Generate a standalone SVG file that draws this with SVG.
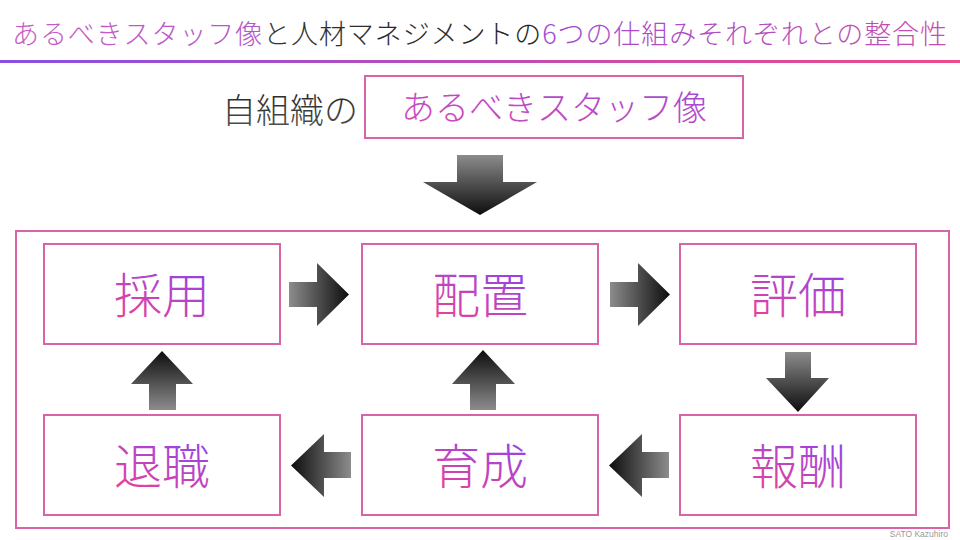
<svg xmlns="http://www.w3.org/2000/svg" width="960" height="540" viewBox="0 0 960 540">
  <defs>
    <linearGradient id="titleLine" x1="0" y1="0" x2="1" y2="0">
      <stop offset="0" stop-color="#8a4fe0"/>
      <stop offset="1" stop-color="#ee4a8c"/>
    </linearGradient>
    <linearGradient id="tA" gradientUnits="userSpaceOnUse" x1="12" y1="0" x2="270" y2="0">
      <stop offset="0" stop-color="#c95bc2"/>
      <stop offset="1" stop-color="#b356c8"/>
    </linearGradient>
    <linearGradient id="tB" gradientUnits="userSpaceOnUse" x1="270" y1="0" x2="540" y2="0">
      <stop offset="0" stop-color="#333"/>
      <stop offset="1" stop-color="#222"/>
    </linearGradient>
    <linearGradient id="tC" gradientUnits="userSpaceOnUse" x1="540" y1="0" x2="947" y2="0">
      <stop offset="0" stop-color="#a04bd2"/>
      <stop offset="1" stop-color="#c64dae"/>
    </linearGradient>
    <linearGradient id="lbl" x1="0.2" y1="1" x2="0.8" y2="0">
      <stop offset="0" stop-color="#ee3f96"/>
      <stop offset="0.55" stop-color="#b545c8"/>
      <stop offset="1" stop-color="#8a3ff0"/>
    </linearGradient>
    <linearGradient id="hdr" x1="0" y1="1" x2="1" y2="0">
      <stop offset="0" stop-color="#d64cb4"/>
      <stop offset="1" stop-color="#a048d6"/>
    </linearGradient>
    <linearGradient id="gray" x1="0" y1="0" x2="0" y2="1">
      <stop offset="0" stop-color="#1e1e1e"/>
      <stop offset="1" stop-color="#555"/>
    </linearGradient>
    <linearGradient id="aR" x1="0" y1="0" x2="1" y2="0">
      <stop offset="0" stop-color="#8c8c8c"/>
      <stop offset="1" stop-color="#0d0d0d"/>
    </linearGradient>
    <linearGradient id="aL" x1="0" y1="0" x2="1" y2="0">
      <stop offset="0" stop-color="#0d0d0d"/>
      <stop offset="1" stop-color="#8c8c8c"/>
    </linearGradient>
    <linearGradient id="aD" x1="0" y1="0" x2="0" y2="1">
      <stop offset="0" stop-color="#8c8c8c"/>
      <stop offset="1" stop-color="#0d0d0d"/>
    </linearGradient>
    <linearGradient id="aU" x1="0" y1="0" x2="0" y2="1">
      <stop offset="0" stop-color="#0d0d0d"/>
      <stop offset="1" stop-color="#8c8c8c"/>
    </linearGradient>
  </defs>
  <style>
    text { font-family: "Noto Sans CJK JP", "Noto Sans", sans-serif; font-weight: 300; }
    .box { fill: #ffffff; stroke: #d864a8; stroke-width: 2; }
    .lbl { font-size: 48px; fill: url(#lbl); text-anchor: middle; }
  </style>
  <rect x="0" y="0" width="960" height="540" fill="#ffffff"/>

  <g id="title">
    <text x="12" y="44" font-size="27" textLength="935" lengthAdjust="spacing"><tspan fill="url(#tA)">あるべきスタッフ像</tspan><tspan fill="url(#tB)">と人材マネジメントの</tspan><tspan fill="url(#tC)">6つの仕組みそれぞれとの整合性</tspan></text>
    <rect x="0" y="60" width="960" height="3" fill="url(#titleLine)"/>
  </g>

  <g id="header">
    <text x="222" y="123" font-size="34" fill="url(#gray)">自組織の</text>
    <rect class="box" x="365" y="76" width="378" height="62"/>
    <text x="554" y="120" font-size="34" fill="url(#hdr)" text-anchor="middle">あるべきスタッフ像</text>
  </g>

  <g id="container">
    <rect class="box" x="16" y="231" width="933" height="297" fill="none"/>
  </g>

  <g id="connectors">
    <polygon points="457,155 503,155 503,182 537,182 480,215 423,182 457,182" fill="url(#aD)"/>
    <polygon points="289,282 317,282 317,263 349,294.5 317,326 317,307 289,307" fill="url(#aR)"/>
    <polygon points="610,282 638,282 638,263 670,294.5 638,326 638,307 610,307" fill="url(#aR)"/>
    <polygon points="785,352 811,352 811,378 829,378 798,412 766,378 785,378" fill="url(#aD)"/>
    <polygon points="669,452 642,452 642,434 609,465.5 642,497 642,478 669,478" fill="url(#aL)"/>
    <polygon points="351,452 324,452 324,434 291,465.5 324,497 324,478 351,478" fill="url(#aL)"/>
    <polygon points="470,410 496,410 496,384 515,384 483,350 452,384 470,384" fill="url(#aU)"/>
    <polygon points="149,410 176,410 176,384 193,384 162,351 131,384 149,384" fill="url(#aU)"/>
  </g>

  <g id="node-saiyo">
    <rect class="box" x="44" y="244" width="236" height="100"/>
    <text class="lbl" x="162" y="313">採用</text>
  </g>
  <g id="node-haichi">
    <rect class="box" x="362" y="244" width="236" height="100"/>
    <text class="lbl" x="480" y="313">配置</text>
  </g>
  <g id="node-hyoka">
    <rect class="box" x="680" y="244" width="236" height="100"/>
    <text class="lbl" x="798" y="313">評価</text>
  </g>
  <g id="node-taishoku">
    <rect class="box" x="44" y="415" width="236" height="100"/>
    <text class="lbl" x="162" y="484">退職</text>
  </g>
  <g id="node-ikusei">
    <rect class="box" x="362" y="415" width="236" height="100"/>
    <text class="lbl" x="480" y="484">育成</text>
  </g>
  <g id="node-hoshu">
    <rect class="box" x="680" y="415" width="236" height="100"/>
    <text class="lbl" x="798" y="484">報酬</text>
  </g>

  <text x="948" y="537" font-size="8.5" fill="#999" text-anchor="end" style="font-family: 'Liberation Sans', sans-serif;">SATO Kazuhiro</text>
</svg>
